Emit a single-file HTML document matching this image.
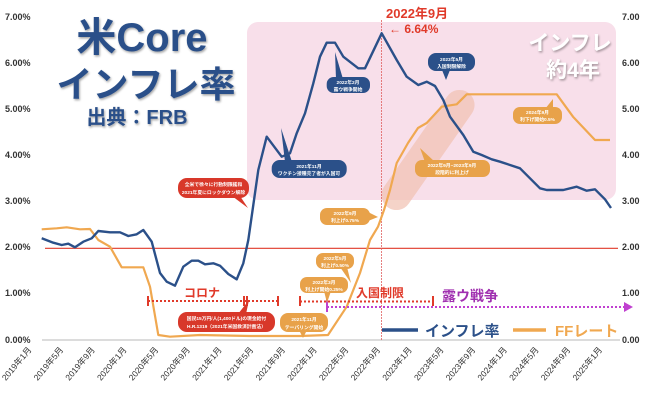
<!DOCTYPE html>
<html><head><meta charset="utf-8"><style>
html,body{margin:0;padding:0;background:#fff;}
svg{display:block;font-family:"Liberation Sans","Noto Sans CJK JP",sans-serif;}
</style></head><body>
<svg width="648" height="400" viewBox="0 0 648 400" xmlns="http://www.w3.org/2000/svg">
<defs>
<filter id="sh" x="-20%" y="-20%" width="140%" height="140%"><feDropShadow dx="1" dy="1.5" stdDeviation="1" flood-color="#000" flood-opacity="0.35"/></filter>
</defs>
<rect x="247" y="22" width="369" height="178" rx="11" fill="#f8dfea"/>
<g transform="translate(428,150) rotate(-55)">
<rect x="-70" y="-15" width="140" height="30" rx="15" fill="#f1c1b0" opacity="0.7"/>
</g>
<line x1="42" y1="340" x2="620" y2="340" stroke="#dcdcdc" stroke-width="2"/>
<line x1="45" y1="248.3" x2="618" y2="248.3" stroke="#e03a2a" stroke-width="1.2"/>
<line x1="381.5" y1="20" x2="381.5" y2="340" stroke="#e06060" stroke-width="0.8" stroke-dasharray="2,1"/>
<g font-size="9" font-weight="bold" fill="#333">
<text x="5" y="20">7.00%</text><text x="5" y="66">6.00%</text><text x="5" y="112">5.00%</text><text x="5" y="158">4.00%</text><text x="5" y="204">3.00%</text><text x="5" y="250">2.00%</text><text x="5" y="296">1.00%</text><text x="5" y="343">0.00%</text>
<text x="622" y="20">7.00</text><text x="622" y="66">6.00</text><text x="622" y="112">5.00</text><text x="622" y="158">4.00</text><text x="622" y="204">3.00</text><text x="622" y="250">2.00</text><text x="622" y="296">1.00</text><text x="622" y="343">0.00</text>
</g>
<g font-size="8.5" fill="#333" text-anchor="end">
<text transform="translate(32,350) rotate(-50)">2019年1月</text>
<text transform="translate(63.7,350) rotate(-50)">2019年5月</text>
<text transform="translate(95.4,350) rotate(-50)">2019年9月</text>
<text transform="translate(127.1,350) rotate(-50)">2020年1月</text>
<text transform="translate(158.8,350) rotate(-50)">2020年5月</text>
<text transform="translate(190.5,350) rotate(-50)">2020年9月</text>
<text transform="translate(222.2,350) rotate(-50)">2021年1月</text>
<text transform="translate(253.9,350) rotate(-50)">2021年5月</text>
<text transform="translate(285.6,350) rotate(-50)">2021年9月</text>
<text transform="translate(317.3,350) rotate(-50)">2022年1月</text>
<text transform="translate(349,350) rotate(-50)">2022年5月</text>
<text transform="translate(380.7,350) rotate(-50)">2022年9月</text>
<text transform="translate(412.4,350) rotate(-50)">2023年1月</text>
<text transform="translate(444.1,350) rotate(-50)">2023年5月</text>
<text transform="translate(475.8,350) rotate(-50)">2023年9月</text>
<text transform="translate(507.5,350) rotate(-50)">2024年1月</text>
<text transform="translate(539.2,350) rotate(-50)">2024年5月</text>
<text transform="translate(570.9,350) rotate(-50)">2024年9月</text>
<text transform="translate(602.6,350) rotate(-50)">2025年1月</text>
</g>
<polyline fill="none" stroke="#f0a850" stroke-width="2.2" stroke-linejoin="round" points="41.7,229.3 56.7,228.3 66.7,227.3 80,229.3 90,229 98.3,240 110,246.7 121.7,267.3 133.3,267.3 143.3,267.3 150,286.7 158.3,335 170,336.7 200,335 250,336 300,336 328,335 346.7,306.7 360,273 370,240 378,226.7 384,210 390,190 396.7,163 408,143 418,128 426.7,123 441.7,106.7 456.7,104.3 466.7,94.3 556.7,94.3 573,116.7 595,140 610,140"/>
<polyline fill="none" stroke="#2b5089" stroke-width="2.4" stroke-linejoin="round" points="41.7,238.3 53.3,242.7 61.7,245 68.3,243.7 75,247.3 83.3,241.7 91.7,238.3 98.3,231 110,232.3 120,232.3 128.3,236 136.7,234.3 143.3,230 151.7,241.7 160,273 166.7,281.7 175,285.7 183.3,266.7 191.7,260.7 198.3,260.7 205,264.3 213.3,263.3 220,265.7 228.3,274 236.7,279.3 243.3,263.3 248.3,240 258.3,170 266.7,136.7 281.7,156.7 290,153.3 296.7,133.3 305,113.3 313.3,83.3 320,56.7 326.7,42.7 335,42.7 343.3,56.7 358.3,68.3 365,68.3 381.7,33.3 396.7,60 406.7,76.7 418.3,85 426.7,81.7 435,86 443.3,100 450,116.7 463.3,135 473.3,151.7 481.7,155 491.7,159.3 500,161.7 510,165 520,168.3 530,178.3 540,188.3 546.7,190 563.3,190 576.7,186.7 586.7,190.7 595,189.3 605,199.3 611,208"/>
<g stroke="#e03a2a" stroke-width="2">
<line x1="148" y1="301" x2="278" y2="301" stroke-dasharray="2,2"/>
<line x1="148" y1="296" x2="148" y2="306"/><line x1="244" y1="296" x2="244" y2="306"/><line x1="247" y1="296" x2="247" y2="306"/><line x1="278" y1="296" x2="278" y2="306"/>
<line x1="300" y1="301.5" x2="433" y2="301.5" stroke-dasharray="2,2"/>
<line x1="300" y1="296" x2="300" y2="306"/><line x1="433" y1="296" x2="433" y2="306"/>
</g>
<g stroke="#c040d0" stroke-width="2">
<line x1="327" y1="307" x2="626" y2="307" stroke-dasharray="2,2"/>
<line x1="327" y1="298" x2="327" y2="312"/>
</g>
<polygon points="624,302 633,307 624,312" fill="#c040d0"/>
<text x="202" y="297" font-size="12" font-weight="bold" fill="#e03a2a" text-anchor="middle">コロナ</text>
<text x="380" y="297" font-size="12" font-weight="bold" fill="#e03a2a" text-anchor="middle">入国制限</text>
<text x="442" y="301" font-size="14" font-weight="bold" fill="#a030b0">露ウ戦争</text>
<g font-size="4.8" fill="#fff" text-anchor="middle" font-weight="bold">
<polygon points="285,162 292,162 281,128" fill="#2b5089"/>
<rect x="271.7" y="160" width="75" height="18" rx="8" fill="#2b5089"/>
<text x="309" y="168">2021年11月</text><text x="309" y="175">ワクチン接種完了者が入国可</text>
<polygon points="336,79 343,79 335,52" fill="#2b5089"/>
<rect x="326.7" y="77" width="43.3" height="16" rx="7" fill="#2b5089"/>
<text x="348" y="84">2022年2月</text><text x="348" y="91">露ウ戦争開始</text>
<polygon points="442,70 450,70 446,80" fill="#2b5089"/>
<rect x="428" y="53" width="47" height="18" rx="8" fill="#2b5089"/>
<text x="451.5" y="61">2023年5月</text><text x="451.5" y="68">入国制限解除</text>
<polygon points="425,162 435,162 420,148" fill="#e8a24a"/>
<rect x="415" y="160" width="75" height="17" rx="7" fill="#e8a24a"/>
<text x="452" y="167">2022年9月~2023年9月</text><text x="452" y="174">段階的に利上げ</text>
<polygon points="545,109 553,109 553,99" fill="#e8a24a"/>
<rect x="513" y="107" width="49" height="17" rx="7" fill="#e8a24a"/>
<text x="537.5" y="114">2024年9月</text><text x="537.5" y="121">利下げ開始0.5%</text>
<polygon points="232,196 240,196 248,208" fill="#d8382a"/>
<rect x="178" y="178" width="71" height="20" rx="9" fill="#d8382a"/>
<text x="213.5" y="186">全米で徐々に行動制限緩和</text><text x="213.5" y="194">2021年夏にロックダウン解除</text>
<polygon points="368,212 368,221 378,217" fill="#e8a24a"/>
<rect x="320" y="208" width="50" height="17" rx="7" fill="#e8a24a"/>
<text x="345" y="215">2022年9月</text><text x="345" y="222">利上げ0.75%</text>
<polygon points="340,267 347,267 351,283" fill="#e8a24a"/>
<rect x="316" y="253" width="38" height="16" rx="7" fill="#e8a24a"/>
<text x="335" y="260">2022年5月</text><text x="335" y="267">利上げ0.50%</text>
<polygon points="324,291 331,291 327,303" fill="#e8a24a"/>
<rect x="300" y="277" width="48" height="16" rx="7" fill="#e8a24a"/>
<text x="324" y="284">2022年3月</text><text x="324" y="291">利上げ開始0.25%</text>
<polygon points="238,314 246,314 249,300" fill="#d8382a"/>
<rect x="178" y="312" width="97" height="20" rx="9" fill="#d8382a"/>
<text x="226.5" y="320">国民15万円/人(1,400ドル)の現金給付</text><text x="226.5" y="328">H.R.1319（2021年米国救済計画法）</text>
<polygon points="299,330 307,330 303,338" fill="#e8a24a"/>
<rect x="280" y="313" width="48" height="19" rx="8" fill="#e8a24a"/>
<text x="304" y="321">2021年11月</text><text x="304" y="329">テーパリング開始</text>
</g>
<g fill="#2b5089" font-weight="bold" filter="url(#sh)">
<text x="142" y="51" font-size="40" text-anchor="middle">米Core</text>
<text x="146" y="97" font-size="36" text-anchor="middle">インフレ率</text>
<text x="137" y="124" font-size="20" text-anchor="middle">出典：FRB</text>
</g>
<g fill="#fff" font-weight="bold" font-size="21" text-anchor="middle" filter="url(#sh)">
<text x="570" y="50">インフレ</text>
<text x="573" y="77">約4年</text>
</g>
<text x="386" y="18" font-size="13" font-weight="bold" fill="#e03a2a">2022年9月</text>
<text x="389" y="33" font-size="12" font-weight="bold" fill="#e03a2a">← 6.64%</text>
<line x1="382" y1="330" x2="418" y2="330" stroke="#2b5089" stroke-width="3.5"/>
<text x="425" y="336" font-size="15" font-weight="bold" fill="#2b5089">インフレ率</text>
<line x1="513" y1="330" x2="546" y2="330" stroke="#f0a850" stroke-width="3.5"/>
<text x="555" y="336" font-size="15" font-weight="bold" fill="#f0a850">FFレート</text>
</svg>
</body></html>
